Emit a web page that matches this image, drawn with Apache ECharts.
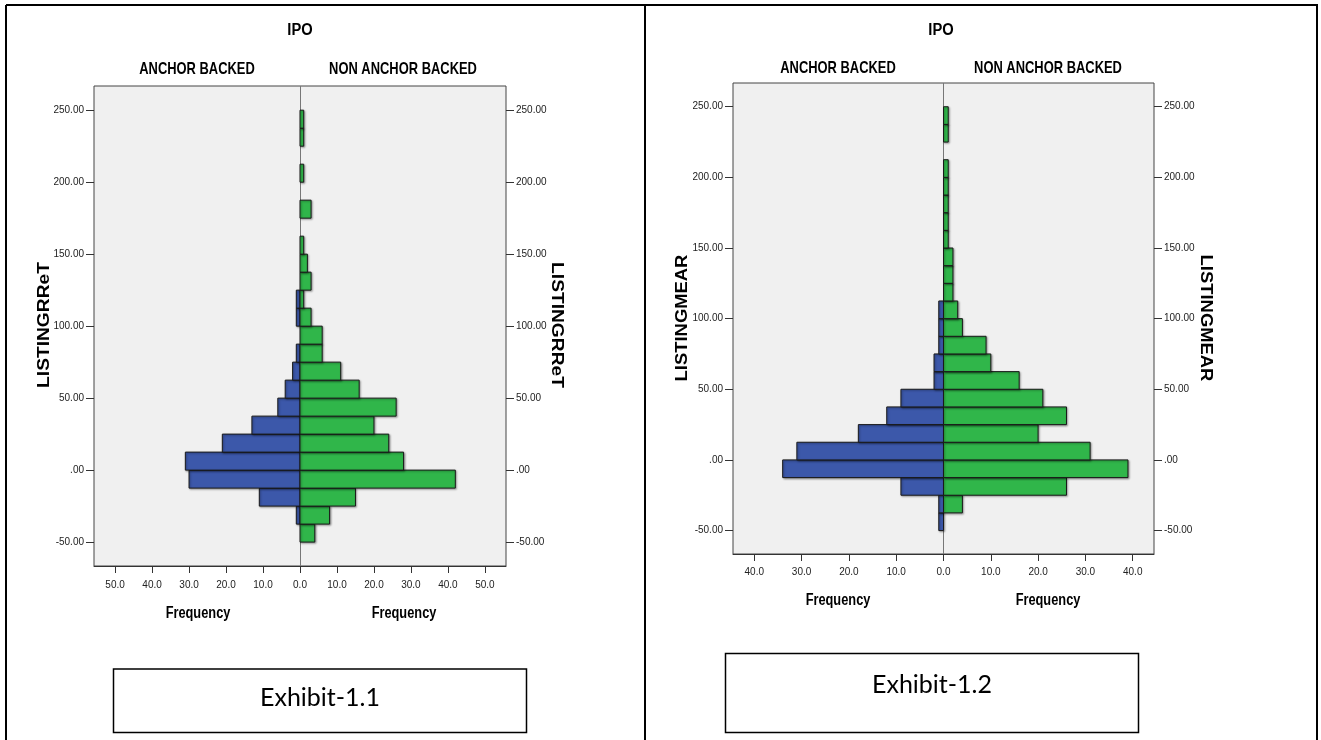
<!DOCTYPE html>
<html style="height: 100%">
<head>
    <meta charset="utf-8">
    <script type="text/javascript" src="https://cdn.jsdelivr.net/npm/echarts@6.0.0/dist/echarts.min.js"></script>
</head>
<body style="height: 100%; margin: 0; background-color: #fff;">
    <div id="main" style="width: 1321px;height: 740px;"></div>
</body>
</html>
<script>
// histogram bins (lower edge), width 12.5
var binLow = [-50, -37.5, -25, -12.5, 0, 12.5, 25, 37.5, 50, 62.5, 75, 87.5,
              100, 112.5, 125, 137.5, 150, 162.5, 175, 187.5, 200, 212.5, 225, 237.5];
var binWidth = 12.5;

// Exhibit-1.1  LISTINGRReT
var anchor1    = [0, 1, 11, 30, 31, 21, 13, 6, 4, 2, 1, 0, 1, 1, 0, 0, 0, 0, 0, 0, 0, 0, 0, 0];
var nonAnchor1 = [4, 8, 15, 42, 28, 24, 20, 26, 16, 11, 6, 6, 3, 1, 3, 2, 1, 0, 3, 0, 1, 0, 1, 1];

// Exhibit-1.2  LISTINGMEAR
var anchor2    = [1, 1, 9, 34, 31, 18, 12, 9, 2, 2, 1, 1, 1, 0, 0, 0, 0, 0, 0, 0, 0, 0, 0, 0];
var nonAnchor2 = [0, 4, 26, 39, 31, 20, 26, 21, 16, 10, 9, 4, 3, 2, 2, 2, 1, 1, 1, 1, 1, 0, 1, 1];

var yTicks = [-50, 0, 50, 100, 150, 200, 250];
var xTicks1 = [-50, -40, -30, -20, -10, 0, 10, 20, 30, 40, 50];
var xTicks2 = [-40, -30, -20, -10, 0, 10, 20, 30, 40];

var BLUE = '#3c58aa';
var GREEN = '#30b64a';
var SANS = "'Liberation Sans', Arial, sans-serif";

var chartDom = document.getElementById('main');
var myChart = echarts.init(chartDom);

function toData(counts, side) {
    return binLow.map(function (lo, i) {
        return [lo, lo + binWidth, counts[i], side];
    });
}

function renderBar(params, api) {
    var n = api.value(2);
    if (!n) return null;
    var side = api.value(3);
    var p1 = api.coord([side * n, api.value(1)]);
    var p2 = api.coord([0, api.value(0)]);
    return {
        type: 'rect',
        shape: {
            x: Math.min(p1[0], p2[0]),
            y: p1[1],
            width: Math.abs(p2[0] - p1[0]),
            height: p2[1] - p1[1]
        },
        style: {
            fill: side < 0 ? BLUE : GREEN,
            stroke: '#1a1a1a',
            lineWidth: 1,
            shadowBlur: 2,
            shadowOffsetX: 1,
            shadowOffsetY: 1,
            shadowColor: 'rgba(0,0,0,0.35)'
        }
    };
}

function yLabel(v) {
    return v === 0 ? '.00' : v.toFixed(2);
}

function yAxisDef(grid, pos) {
    return {
        gridIndex: grid,
        type: 'value',
        position: pos,
        min: -66.6,
        max: 266.8,
        splitLine: { show: false },
        axisLine: { show: false, onZero: false },
        axisTick: { show: true, length: 8, customValues: yTicks, lineStyle: { color: '#333' } },
        axisLabel: {
            customValues: yTicks,
            formatter: yLabel,
            margin: 10,
            color: '#222',
            fontFamily: SANS,
            fontSize: 10
        }
    };
}

function xAxisDef(grid, lim, ticks, margin) {
    return {
        gridIndex: grid,
        type: 'value',
        min: -lim,
        max: lim,
        splitLine: { show: false },
        axisLine: { show: true, onZero: false, lineStyle: { color: '#333' } },
        axisTick: { show: true, length: 7, customValues: ticks, lineStyle: { color: '#333' } },
        axisLabel: {
            customValues: ticks,
            formatter: function (v) { return Math.abs(v).toFixed(1); },
            margin: margin,
            color: '#222',
            fontFamily: SANS,
            fontSize: 10
        }
    };
}

function centerLine() {
    return {
        silent: true,
        symbol: 'none',
        z: 1,
        label: { show: false },
        lineStyle: { color: '#777', type: 'solid', width: 1 },
        data: [{ xAxis: 0 }]
    };
}

// text; sx condenses/stretches along the text direction
function txt(x, y, s, font, sx, rot) {
    return {
        type: 'text',
        x: x,
        y: y,
        scaleX: sx || 1,
        rotation: rot || 0,
        style: {
            text: s,
            font: font,
            fill: '#000',
            align: 'center',
            verticalAlign: 'middle',
            textAlign: 'center',
            textVerticalAlign: 'middle'
        }
    };
}

function line(x1, y1, x2, y2, w) {
    return {
        type: 'line',
        shape: { x1: x1, y1: y1, x2: x2, y2: y2 },
        style: { stroke: '#000', lineWidth: w }
    };
}

function box(x, y, w, h) {
    return {
        type: 'rect',
        shape: { x: x, y: y, width: w, height: h },
        style: { fill: '#fff', stroke: '#000', lineWidth: 1.5 }
    };
}

var ipoFont = 'bold 16px ' + SANS;
var headFont = 'bold 17px ' + SANS;
var freqFont = 'bold 16px ' + SANS;
var nameFont = 'bold 16px ' + SANS;
var exhibitFont = "25px Lato, 'Open Sans', sans-serif";

var option = {
    animation: false,
    backgroundColor: '#fff',
    grid: [
        { left: 94, top: 86, width: 412, height: 480, show: true, backgroundColor: '#f0f0f0', borderColor: '#444', borderWidth: 1 },
        { left: 733, top: 83, width: 421, height: 471, show: true, backgroundColor: '#f0f0f0', borderColor: '#444', borderWidth: 1 }
    ],
    xAxis: [
        xAxisDef(0, 55.7, xTicks1, 14),
        xAxisDef(1, 44.5, xTicks2, 13)
    ],
    yAxis: [
        yAxisDef(0, 'left'),
        yAxisDef(0, 'right'),
        yAxisDef(1, 'left'),
        yAxisDef(1, 'right')
    ],
    series: [
        { name: 'ANCHOR BACKED', type: 'custom', xAxisIndex: 0, yAxisIndex: 0, renderItem: renderBar, data: toData(anchor1, -1), markLine: centerLine() },
        { name: 'NON ANCHOR BACKED', type: 'custom', xAxisIndex: 0, yAxisIndex: 0, renderItem: renderBar, data: toData(nonAnchor1, 1) },
        { name: 'ANCHOR BACKED', type: 'custom', xAxisIndex: 1, yAxisIndex: 2, renderItem: renderBar, data: toData(anchor2, -1), markLine: centerLine() },
        { name: 'NON ANCHOR BACKED', type: 'custom', xAxisIndex: 1, yAxisIndex: 2, renderItem: renderBar, data: toData(nonAnchor2, 1) }
    ],
    graphic: [
        // page frame
        line(6, 5, 1318, 5, 2),
        line(6, 5, 6, 740, 2),
        line(645, 5, 645, 740, 2),
        line(1317, 5, 1317, 740, 2),

        // panel 1 texts
        txt(300, 31, 'IPO', ipoFont, 0.92),
        txt(197, 69, 'ANCHOR BACKED', headFont, 0.76),
        txt(403, 69, 'NON ANCHOR BACKED', headFont, 0.76),
        txt(45, 325, 'LISTINGRReT', nameFont, 1.2, Math.PI / 2),
        txt(556, 325, 'LISTINGRReT', nameFont, 1.2, -Math.PI / 2),
        txt(198, 614, 'Frequency', freqFont, 0.8),
        txt(404, 614, 'Frequency', freqFont, 0.8),
        box(113.5, 669, 413, 63.5),
        txt(320, 698, 'Exhibit-1.1', exhibitFont),

        // panel 2 texts
        txt(941, 31, 'IPO', ipoFont, 0.92),
        txt(838, 68, 'ANCHOR BACKED', headFont, 0.76),
        txt(1048, 68, 'NON ANCHOR BACKED', headFont, 0.76),
        txt(683, 318, 'LISTINGMEAR', nameFont, 1.15, Math.PI / 2),
        txt(1205, 318, 'LISTINGMEAR', nameFont, 1.15, -Math.PI / 2),
        txt(838, 601, 'Frequency', freqFont, 0.8),
        txt(1048, 601, 'Frequency', freqFont, 0.8),
        box(725.5, 653.5, 413, 79),
        txt(932, 685, 'Exhibit-1.2', exhibitFont)
    ]
};

myChart.setOption(option);
</script>
